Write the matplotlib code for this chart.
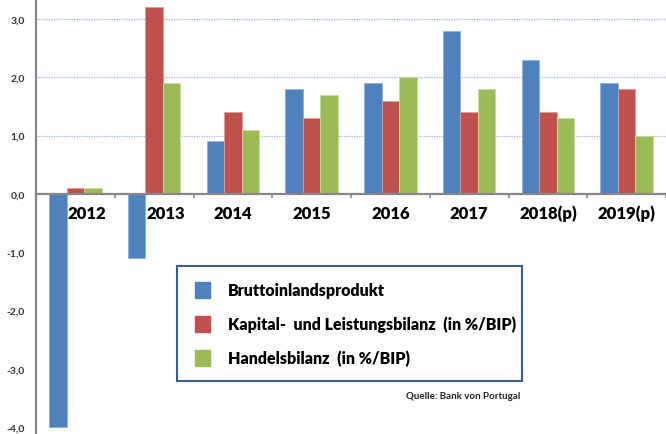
import numpy as np
import matplotlib
matplotlib.use('Agg')
import matplotlib.pyplot as plt
from matplotlib.patches import Rectangle

years = ['2012', '2013', '2014', '2015', '2016', '2017', '2018(p)', '2019(p)']
bip = [-4.0, -1.1, 0.9, 1.8, 1.9, 2.8, 2.3, 1.9]
leistungsbilanz = [0.1, 3.2, 1.4, 1.3, 1.6, 1.4, 1.4, 1.8]
handelsbilanz = [0.1, 1.9, 1.1, 1.7, 2.0, 1.8, 1.3, 1.0]
series_names = ['Bruttoinlandsprodukt',
                'Kapital-  und Leistungsbilanz  (in %/BIP)',
                'Handelsbilanz  (in %/BIP)']
y_ticks = [-4, -3, -2, -1, 0, 1, 2, 3]
source = 'Quelle: Bank von Portugal'

colors = ['#4F81BD', '#C0504D', '#9BBB59']
edges = ['#8DB0DB', '#E09C9A', '#C9DC9E']
plt.rcParams['font.family'] = ['Lato', 'DejaVu Sans']

fig = plt.figure(figsize=(6.66, 4.35), dpi=100)
ax = fig.add_axes([36 / 666, 0, 630 / 666, 1])

x = np.arange(len(years))
w = 0.222
for k, vals in enumerate([bip, leistungsbilanz, handelsbilanz]):
    ax.bar(x + (k - 1) * w, vals, width=w, color=colors[k],
           edgecolor=edges[k], linewidth=0.6, zorder=3)

ax.set_xlim(-0.5, len(years) - 0.5)
ax.set_ylim(-4.12, 3.343)

# dotted gridlines only for positive values
for yv in [1, 2, 3]:
    ax.axhline(yv, color='#9DB7DC', linestyle=(0, (1, 1)), linewidth=0.9, zorder=1)

for s in ['top', 'right']:
    ax.spines[s].set_visible(False)
ax.spines['left'].set_color('#878787')
ax.spines['left'].set_linewidth(1.6)
ax.spines['bottom'].set_position(('data', 0))
ax.spines['bottom'].set_color('#878787')
ax.spines['bottom'].set_linewidth(1.6)
ax.spines['bottom'].set_zorder(4)

ax.set_xticks(np.arange(len(years) + 1) - 0.5)
ax.set_xticklabels([])
ax.tick_params(axis='x', direction='out', length=3, width=1.2, color='#878787')
ax.set_yticks(y_ticks)
ax.set_yticklabels([f'{v:.1f}'.replace('.', ',') for v in y_ticks],
                   fontsize=7.5, fontweight='bold', color='#333333')
ax.tick_params(axis='y', length=0, pad=8)

# year labels just under the zero line, pushed right where bars go negative
for i, lab in enumerate(years):
    shift = 0.15 if bip[i] < 0 else 0.0
    ax.text(i + shift, -0.33, lab, ha='center', va='center',
            fontsize=12, fontweight='heavy', color='black', zorder=5)

# legend box
lax = fig.add_axes([177 / 666, 1 - 382 / 435, 345 / 666, 115 / 435])
lax.set_xlim(0, 345)
lax.set_ylim(115, 0)
lax.set_xticks([])
lax.set_yticks([])
for s in lax.spines.values():
    s.set_color('#3A5F95')
    s.set_linewidth(1.5)
for k, name in enumerate(series_names):
    yc = 24 + k * 34
    lax.add_patch(Rectangle((18, yc - 8), 15, 16, color=colors[k]))
    lax.text(51, yc, name, va='center', ha='left', fontsize=11.5, fontweight='heavy')

fig.text(520 / 666, 1 - 397 / 435, source, ha='right', va='center',
         fontsize=7, fontweight='bold', color='#222222')

fig.savefig('out.png', dpi=100)
